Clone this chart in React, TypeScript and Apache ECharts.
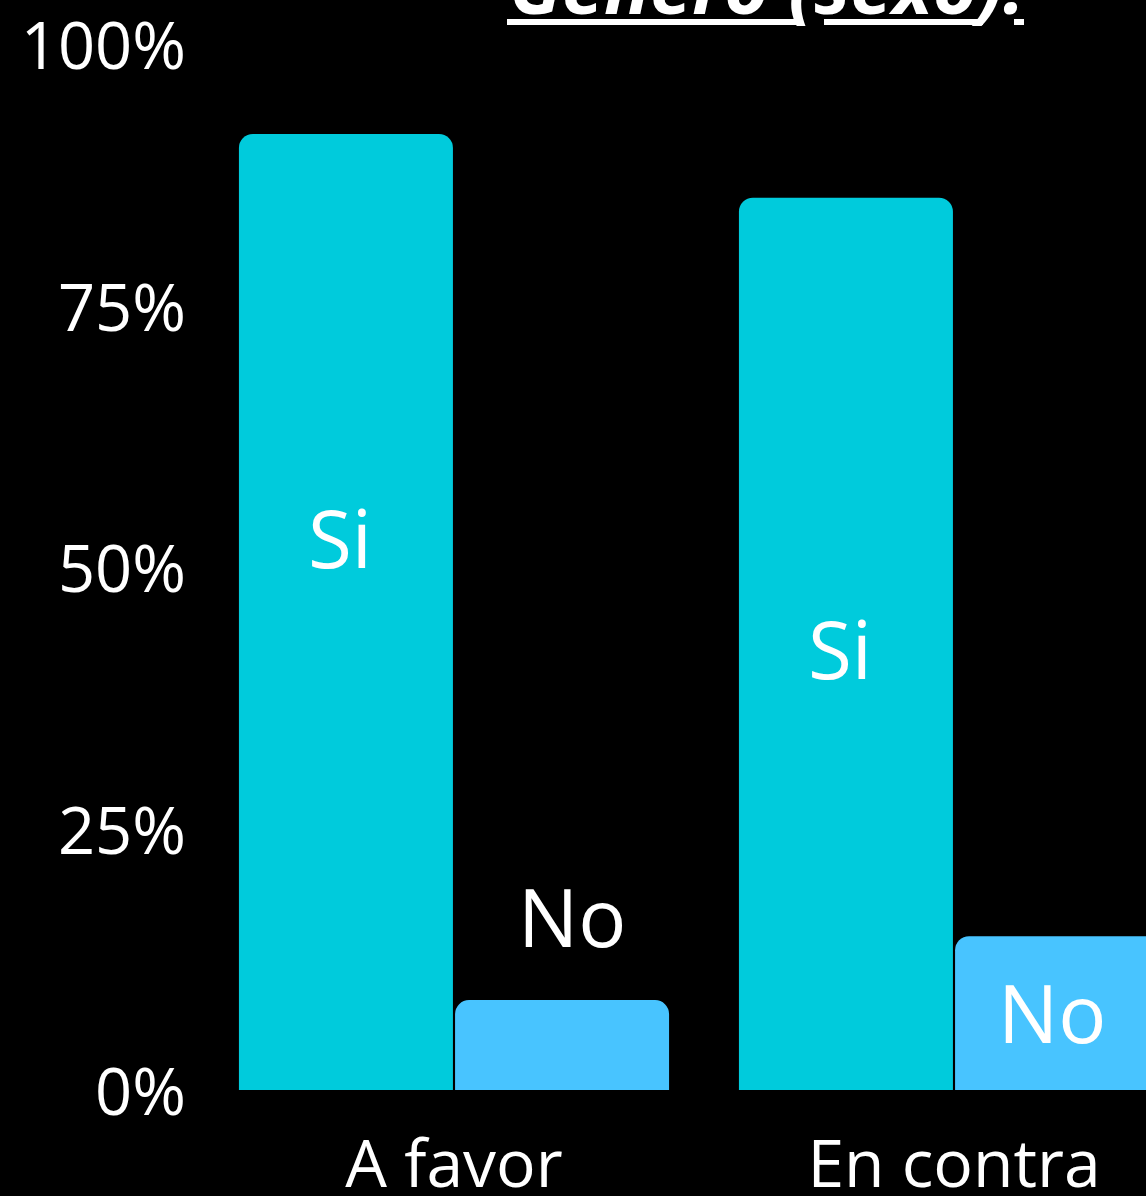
import React, { useEffect, useRef } from "react";
import * as echarts from "echarts";

const categories = ["A favor", "En contra"];
const siValues = [91.4, 85.3];
const noValues = [8.6, 14.7];
const seriesNames = ["Si", "No"];
const titleText = "Género (sexo).";

const siLabelOffsets = [[-6, -75], [-6, 4]];
const noLabelOffsets = [[10, -130], [-10, -2]];

const FONT = "'Open Sans', 'Noto Sans', sans-serif";

export default function App() {
  const ref = useRef<HTMLDivElement>(null);
  useEffect(() => {
    if (!ref.current) return;
    const chart = echarts.init(ref.current, undefined, { renderer: "svg" });
    const labelBase = {
      show: true,
      position: "inside",
      color: "#ffffff",
      fontSize: 80,
      fontFamily: FONT,
    };
    chart.setOption({
      animation: false,
      backgroundColor: "#000000",
      grid: { left: 204, right: 0, top: 44, bottom: 106, containLabel: false },
      xAxis: {
        type: "category",
        data: categories,
        axisLine: { show: false },
        axisTick: { show: false },
        axisLabel: { color: "#ffffff", fontSize: 66, fontFamily: FONT, margin: 38 },
      },
      yAxis: {
        type: "value",
        min: 0,
        max: 100,
        interval: 25,
        axisLine: { show: false },
        axisTick: { show: false },
        splitLine: { show: false },
        axisLabel: {
          color: "#ffffff",
          fontSize: 65,
          fontFamily: FONT,
          margin: 18,
          formatter: "{value}%",
        },
      },
      series: [
        {
          name: seriesNames[0],
          type: "bar",
          barWidth: 214,
          barGap: "1%",
          itemStyle: { color: "#00CBDC", borderRadius: [14, 14, 0, 0] },
          data: siValues.map((v, i) => ({
            value: v,
            label: { ...labelBase, formatter: seriesNames[0], offset: siLabelOffsets[i] },
          })),
        },
        {
          name: seriesNames[1],
          type: "bar",
          barWidth: 214,
          barGap: "1%",
          itemStyle: { color: "#48C4FF", borderRadius: [14, 14, 0, 0] },
          data: noValues.map((v, i) => ({
            value: v,
            label: { ...labelBase, formatter: seriesNames[1], offset: noLabelOffsets[i] },
          })),
        },
      ],
      graphic: [
        {
          type: "text",
          x: 767,
          y: -16,
          style: {
            text: titleText,
            fill: "#ffffff",
            fontSize: 76,
            fontWeight: "bold",
            fontStyle: "italic",
            fontFamily: FONT,
            align: "center",
            verticalAlign: "middle",
          },
        },
        { type: "rect", shape: { x: 507, y: 19, width: 290, height: 6 }, style: { fill: "#ffffff" } },
        { type: "rect", shape: { x: 824, y: 19, width: 159, height: 6 }, style: { fill: "#ffffff" } },
        { type: "rect", shape: { x: 1014, y: 19, width: 10, height: 6 }, style: { fill: "#ffffff" } },
      ],
    });
    return () => chart.dispose();
  }, []);
  return (
    <div style={{ position: "absolute", left: 0, top: 0, width: 1146, height: 1196, overflow: "hidden" }}>
      <div ref={ref} style={{ width: 1204, height: 1196 }} />
    </div>
  );
}
